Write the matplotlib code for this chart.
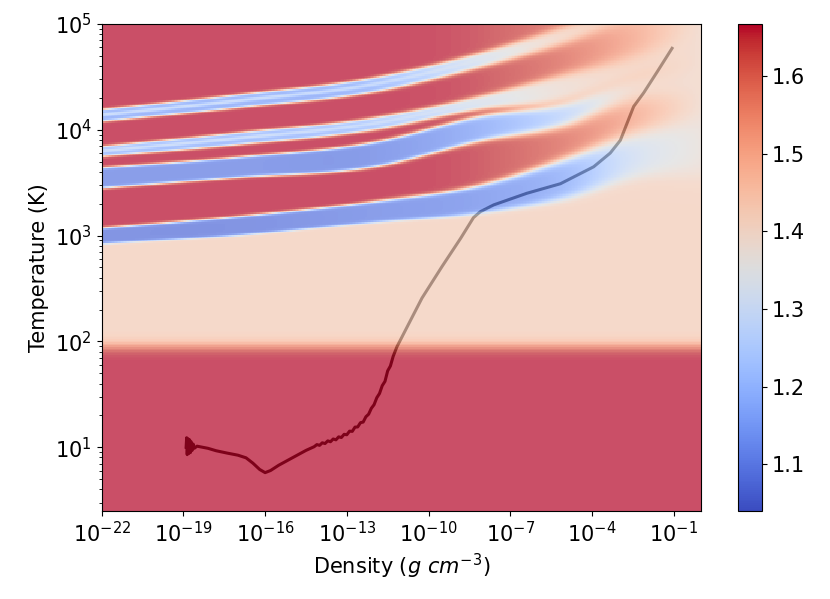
import matplotlib
matplotlib.use("Agg")
import matplotlib.pyplot as plt
import numpy as np

rho_knots = [-22, -17, -12, -8, -5, -2.5, 0]

# dips of gamma: lower edge, upper edge (log10 T), level at the dip
b1_lo = [4.08, 4.21, 4.36, 4.60, 4.82, 5.05, 5.15]
b1_hi = [4.19, 4.33, 4.49, 4.73, 4.97, 5.20, 5.40]
b1_lv = [1.15, 1.15, 1.17, 1.30, 1.40, 1.42, 1.42]

b2_lo = [3.75, 3.86, 4.00, 4.20, 4.28, 4.50, 4.70]
b2_hi = [3.84, 3.97, 4.11, 4.32, 4.52, 4.68, 4.90]
b2_lv = [1.17, 1.17, 1.20, 1.30, 1.38, 1.40, 1.40]

b3_lo = [3.45, 3.55, 3.65, 3.90, 4.04, 4.28, 4.35]
b3_hi = [3.64, 3.74, 3.88, 4.13, 4.25, 4.48, 4.60]
b3_lv = [1.10, 1.10, 1.10, 1.16, 1.26, 1.38, 1.40]

b4_lo = [2.92, 3.00, 3.12, 3.21, 3.34, 3.52, 3.60]
b4_hi = [3.07, 3.18, 3.32, 3.48, 3.72, 3.95, 4.10]
b4_lv = [1.08, 1.08, 1.10, 1.12, 1.17, 1.30, 1.37]

# light stripe inside the two upper dips
split_lv = [1.32, 1.32, 1.32, 1.36, 1.40, 1.42, 1.42]

hot_gamma = [1.667, 1.667, 1.667, 1.65, 1.60, 1.52, 1.40]   # atomic gas between dips
edge_soft = [0.012, 0.012, 0.015, 0.025, 0.05, 0.09, 0.12]
warm_gamma = 1.42      # H2 with rotation excited
cold_gamma = 1.667     # below ~100 K
cold_edge = 1.96

# collapse track (log10 rho, log10 T)
track_rho = [-18.90, -18.88, -18.86, -18.83, -18.80, -18.77, -18.74, -18.71, -18.68,
             -18.64, -18.60, -18.50, -18.10, -17.80, -17.40, -17.00, -16.70, -16.45,
             -16.20, -16.00, -15.80, -15.50, -15.00, -14.50,
             -14.20, -14.10, -14.00, -13.90, -13.80, -13.70, -13.60, -13.50, -13.40,
             -13.30, -13.20, -13.10, -13.00, -12.90, -12.80, -12.70, -12.60, -12.50,
             -12.40, -12.30, -12.20, -12.10, -12.00, -11.90, -11.80, -11.70, -11.60,
             -11.50, -11.40, -11.30, -11.16, -10.70, -10.24, -9.50, -8.82, -8.35,
             -8.10, -7.61, -6.39, -5.16, -3.94, -3.33, -2.96, -2.47, -2.10, -1.60,
             -1.06]
track_T = [1.00, 1.09, 0.93, 1.08, 0.94, 1.07, 0.95, 1.05, 0.97, 1.03, 0.99, 1.01,
           0.99, 0.967, 0.945, 0.925, 0.90, 0.85, 0.79, 0.76, 0.78, 0.83, 0.90, 0.97,
           1.005, 1.025, 1.018, 1.042, 1.035, 1.060, 1.052, 1.078, 1.070,
           1.098, 1.092, 1.122, 1.118, 1.152, 1.150, 1.190, 1.192, 1.232,
           1.238, 1.288, 1.312, 1.368, 1.402, 1.468, 1.508, 1.582, 1.622,
           1.722, 1.768, 1.858, 1.95, 2.18, 2.41, 2.71, 2.975, 3.17,
           3.226, 3.29, 3.40, 3.49, 3.65, 3.78, 3.90, 4.22, 4.35, 4.55,
           4.77]

# grid
lx = np.linspace(-22, 0, 401)
ly = np.linspace(np.log10(2.5), 5, 301)
cx = 0.5 * (lx[1:] + lx[:-1])
cy = 0.5 * (ly[1:] + ly[:-1])
X, Y = np.meshgrid(cx, cy)


def at(vals):
    # cubic hermite through the knots so the bands bend smoothly
    kx = np.asarray(rho_knots, float)
    ky = np.asarray(vals, float)
    m = np.gradient(ky, kx)
    i = np.clip(np.searchsorted(kx, X) - 1, 0, len(kx) - 2)
    h = kx[i + 1] - kx[i]
    t = (X - kx[i]) / h
    return ((2*t**3 - 3*t**2 + 1) * ky[i] + (t**3 - 2*t**2 + t) * h * m[i]
            + (-2*t**3 + 3*t**2) * ky[i + 1] + (t**3 - t**2) * h * m[i + 1])


def slab(lo, hi, s):
    return 0.5 * (np.tanh((Y - lo) / s) - np.tanh((Y - hi) / s))


s = at(edge_soft)
gam = at(hot_gamma)
w = 0.5 * (1 - np.tanh((Y - at(b4_lo)) / s))
gam = gam * (1 - w) + warm_gamma * w
for lo, hi, lv, split in [(b1_lo, b1_hi, b1_lv, True), (b2_lo, b2_hi, b2_lv, True),
                          (b3_lo, b3_hi, b3_lv, False), (b4_lo, b4_hi, b4_lv, False)]:
    a, b = at(lo), at(hi)
    w = slab(a, b, s)
    gam = gam * (1 - w) + at(lv) * w
    if split:
        c = a + 0.55 * (b - a)
        w = slab(c - 0.012, c + 0.012, s)
        gam = gam * (1 - w) + at(split_lv) * w
w = 0.5 * (1 - np.tanh((Y - cold_edge) / 0.06))
gam = gam * (1 - w) + cold_gamma * w

plt.rcParams['font.size'] = 15
fig = plt.figure(figsize=(8.3, 5.99), dpi=100)
ax = fig.add_axes([0.1225, 0.147, 0.722, 0.813])

norm = matplotlib.colors.Normalize(vmin=1.04, vmax=1.667)
ax.plot(10**np.array(track_rho), 10**np.array(track_T), color='k', lw=2.2, zorder=1)
ax.pcolormesh(10**lx, 10**ly, gam, cmap='coolwarm', norm=norm, alpha=0.7,
              zorder=2, rasterized=True)
ax.set_xscale('log')
ax.set_yscale('log')
ax.set_xlim(1e-22, 1)
ax.set_ylim(2.5, 1e5)
ax.set_xticks([10.0**k for k in range(-22, 0, 3)])
ax.xaxis.set_minor_locator(matplotlib.ticker.NullLocator())
ax.set_xlabel(r'Density ($g\ cm^{-3}$)')
ax.set_ylabel('Temperature (K)')

cax = fig.add_axes([0.8896, 0.147, 0.0289, 0.813])
sm = matplotlib.cm.ScalarMappable(norm=norm, cmap='coolwarm')
cb = fig.colorbar(sm, cax=cax)
cb.set_ticks([1.1, 1.2, 1.3, 1.4, 1.5, 1.6])

fig.savefig('out.png', dpi=100)
